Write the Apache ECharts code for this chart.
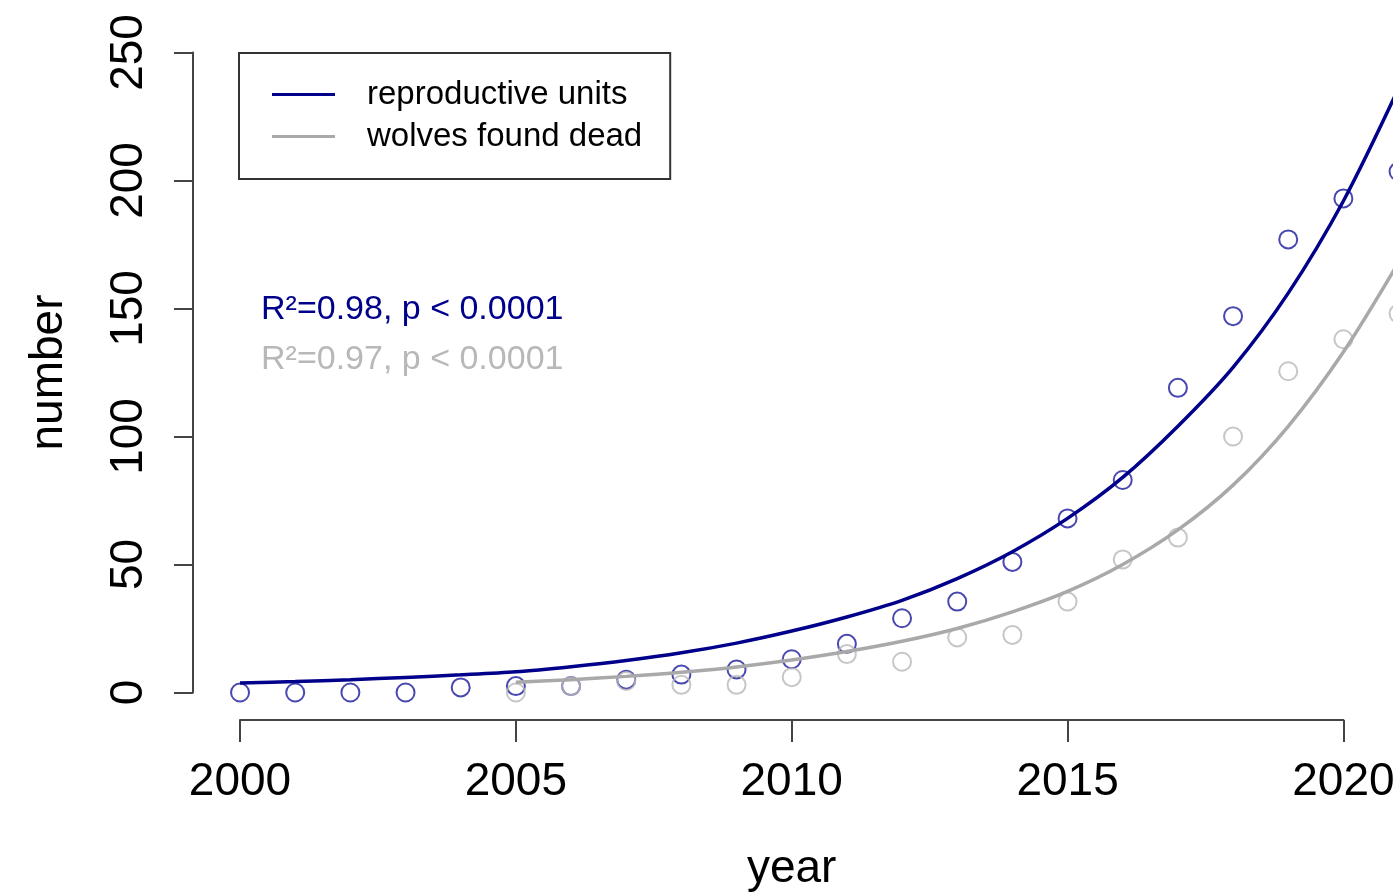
<!DOCTYPE html>
<html>
<head>
<meta charset="utf-8">
<script src="https://cdn.jsdelivr.net/npm/echarts@6/dist/echarts.min.js"></script>
<style>
html, body { margin: 0; padding: 0; overflow: hidden; background: #fff; }
#chart { width: 1460px; height: 894px; }
</style>
</head>
<body>
<div id="chart"></div>
<script>
// observed counts, one value per year
const years = [2000, 2001, 2002, 2003, 2004, 2005, 2006, 2007, 2008, 2009, 2010,
               2011, 2012, 2013, 2014, 2015, 2016, 2017, 2018, 2019, 2020, 2021];
const unitsObs = [0, 0, 0, 0, 2, 2.5, 2.5, 5, 7, 9, 13,
                  19, 29, 35.5, 51, 68, 83, 119, 147, 177, 193, 203.5];
const unitsFit = [3.7, 4.3, 5.0, 5.9, 6.9, 8.1, 10.1, 12.5, 15.5, 19.3, 24,
                  29.5, 36, 44.5, 55, 68, 84, 104, 127, 156, 192, 236];

const deadYears = [2005, 2006, 2007, 2008, 2009, 2010, 2011, 2012, 2013,
                   2014, 2015, 2016, 2017, 2018, 2019, 2020, 2021];
const deadObs = [0, 2.5, 4.5, 3, 3, 6, 15, 12, 21.5, 22.5, 35.5, 52, 60.5, 100, 125.5, 138, 148];
const deadFit = [4.0, 5.0, 6.3, 7.9, 10.0, 12.7, 16, 20, 25, 31.5, 39.5, 50, 63.5, 81, 104, 133, 168];

const xTicks = { min: 2000, max: 2020, step: 5 };
const yTicks = { min: 0, max: 250, step: 50 };
const fitText = ['R²=0.98, p < 0.0001', 'R²=0.97, p < 0.0001'];

const BLUE = '#00008B', BLUE_PT = '#1a1a9c', GREY = '#a9a9a9', GREY_PT = '#b8b8b8';
const FONT = '"Liberation Sans", Arial, sans-serif';

const pairs = (xs, ys) => xs.map((x, i) => [x, ys[i]]);

const chart = echarts.init(document.getElementById('chart'));
const axisLine = { show: true, lineStyle: { color: '#444', width: 2 } };

chart.setOption({
  animation: false,
  backgroundColor: '#fff',
  grid: [
    // plotting region (R style, 4% padding)
    { left: 193.7, top: 26.9, width: 1251.2, height: 691.2, outerBoundsMode: 'none' },
    // y axis as drawn
    { left: 193, top: 52.5, width: 100, height: 640, outerBoundsMode: 'none' },
    // x axis as drawn
    { left: 240, top: 26.9, width: 1103.4, height: 693.1, outerBoundsMode: 'none' }
  ],
  xAxis: [
    { gridIndex: 0, type: 'value', min: 1999.16, max: 2021.84, show: false },
    { gridIndex: 1, type: 'value', min: 0, max: 1, show: false },
    {
      gridIndex: 2, type: 'value', min: xTicks.min, max: xTicks.max, interval: xTicks.step,
      axisLine: axisLine,
      axisTick: { show: true, length: 22, lineStyle: { color: '#444', width: 2 } },
      axisLabel: { fontSize: 46, fontFamily: FONT, color: '#000', margin: 39, formatter: v => String(v) },
      splitLine: { show: false },
      name: 'year', nameLocation: 'middle', nameGap: 126,
      nameTextStyle: { fontSize: 46, fontFamily: FONT, color: '#000' }
    }
  ],
  yAxis: [
    { gridIndex: 0, type: 'value', min: -10, max: 260, show: false },
    {
      gridIndex: 1, type: 'value', min: yTicks.min, max: yTicks.max, interval: yTicks.step,
      axisLine: axisLine,
      axisTick: { show: true, length: 19, lineStyle: { color: '#444', width: 2 } },
      axisLabel: { fontSize: 46, fontFamily: FONT, color: '#000', rotate: 90, margin: 41 },
      splitLine: { show: false },
      name: 'number', nameLocation: 'middle', nameGap: 121,
      nameTextStyle: { fontSize: 46, fontFamily: FONT, color: '#000' }
    },
    { gridIndex: 2, type: 'value', min: 0, max: 1, show: false }
  ],
  legend: {
    orient: 'vertical',
    left: 239, top: 53,
    data: ['reproductive units', 'wolves found dead'],
    icon: 'rect',
    itemWidth: 63, itemHeight: 3, itemGap: 7,
    padding: [24, 28, 25, 33],
    borderColor: '#333', borderWidth: 2,
    selectedMode: false,
    textStyle: { fontSize: 33, fontFamily: FONT, color: '#000', lineHeight: 23, padding: [12, 0, 0, 27] }
  },
  graphic: fitText.map((t, i) => ({
    type: 'text',
    left: 261, top: 293 + i * 50,
    style: { text: t, font: '34px ' + FONT, fill: i === 0 ? BLUE : GREY_PT }
  })),
  series: [
    {
      name: 'units observed', type: 'scatter', xAxisIndex: 0, yAxisIndex: 0,
      data: pairs(years, unitsObs), symbol: 'circle', symbolSize: 18,
      itemStyle: { color: 'none', borderColor: BLUE_PT, borderWidth: 2 }
    },
    {
      name: 'dead observed', type: 'scatter', xAxisIndex: 0, yAxisIndex: 0,
      data: pairs(deadYears, deadObs), symbol: 'circle', symbolSize: 18,
      itemStyle: { color: 'none', borderColor: GREY_PT, borderWidth: 2 }
    },
    {
      name: 'reproductive units', type: 'line', xAxisIndex: 0, yAxisIndex: 0,
      data: pairs(years, unitsFit), showSymbol: false, smooth: 0.3,
      color: BLUE, lineStyle: { color: BLUE, width: 3.5 }
    },
    {
      name: 'wolves found dead', type: 'line', xAxisIndex: 0, yAxisIndex: 0,
      data: pairs(deadYears, deadFit), showSymbol: false, smooth: 0.3,
      color: GREY, lineStyle: { color: GREY, width: 3.5 }
    }
  ]
});
</script>
</body>
</html>
